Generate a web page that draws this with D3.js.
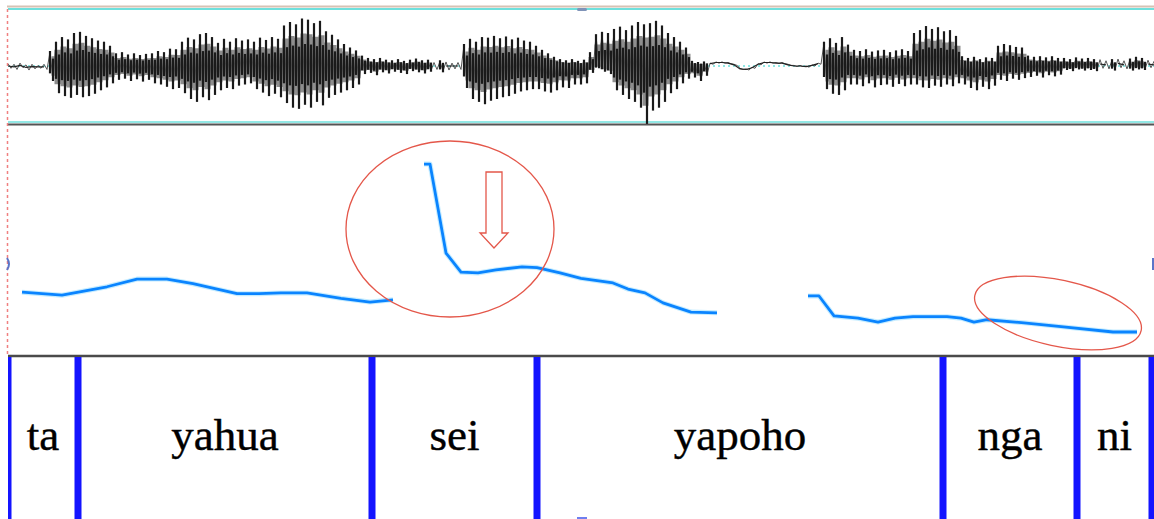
<!DOCTYPE html>
<html>
<head>
<meta charset="utf-8">
<script src="https://cdn.jsdelivr.net/npm/d3@7"></script>
<style>
  html, body { margin: 0; padding: 0; background: #fff; overflow: hidden; }
</style>
</head>
<body>
<div id="chart"></div>
<script>
// waveform frames, one every 6 ms (min / max of the signal, normalised -1..1)
const frameStep = 6;
const waveMax = [
  0.04,0.03,0.05,0.02,0.03,0.01,0.03,
  0.24,
  0.40,0.48,0.44,0.55,0.57,
  0.50,0.46,0.42,0.40,0.33,
  0.20,0.22,0.18,0.20,0.17,0.19,
  0.20,0.24,0.22,0.28,0.27,
  0.40,0.47,0.44,0.53,0.55,0.48,
  0.38,0.45,0.40,0.46,0.42,0.44,
  0.40,0.47,0.43,0.48,0.45,
  0.68,0.74,0.70,0.80,0.78,0.72,0.76,
  0.58,0.52,0.44,0.36,0.30,0.25,
  0.16,0.12,0.10,0.12,0.09,
  0.08,0.10,0.07,0.09,0.11,0.08,0.09,0.06,0.08,0.07,0.05,0.06,
  0.36,
  0.45,0.40,0.48,0.47,
  0.50,0.46,0.49,0.44,0.47,0.42,0.40,
  0.33,0.26,0.20,0.14,
  0.10,0.08,0.10,0.07,0.09,
  0.22,
  0.53,0.57,0.55,
  0.62,0.66,0.60,0.68,
  0.74,0.70,
  0.72,0.76,0.68,
  0.55,0.48,0.40,0.30,
  0.07,0.05,0.06,
  0.05,0.07,0.07,0.06,0.03,-0.04,-0.05,-0.02,0.04,0.07,0.07,0.06,0.06,0.03,0.01,0.01,0.00,0.02,0.05,
  0.40,0.46,0.38,0.48,0.35,
  0.26,0.24,0.27,0.23,0.25,0.26,0.22,0.25,0.27,0.24,
  0.55,0.60,0.67,0.62,0.65,0.58,0.60,0.50,
  0.15,0.12,0.14,0.10,0.13,0.12,
  0.33,0.36,0.34,0.31,0.30,
  0.16,0.14,0.15,0.13,0.15,0.12,
  0.12,0.10,0.13,0.11,0.12,0.10,0.11,0.09,0.10,0.12,0.09,0.11,0.14,0.12,0.10,0.08
];
const waveMin = [
  -0.04,-0.06,-0.03,-0.07,-0.05,-0.04,-0.06,
  -0.24,
  -0.45,-0.50,-0.53,-0.48,-0.52,
  -0.50,-0.46,-0.40,-0.35,-0.28,
  -0.22,-0.20,-0.24,-0.21,-0.25,-0.22,
  -0.28,-0.30,-0.34,-0.38,-0.36,
  -0.45,-0.55,-0.60,-0.52,-0.57,-0.48,
  -0.40,-0.36,-0.38,-0.32,-0.30,-0.28,
  -0.38,-0.44,-0.50,-0.46,-0.52,
  -0.62,-0.70,-0.72,-0.65,-0.70,-0.60,-0.66,
  -0.53,-0.48,-0.44,-0.40,-0.36,-0.30,
  -0.12,-0.10,-0.14,-0.09,-0.11,
  -0.08,-0.10,-0.12,-0.07,-0.09,-0.11,-0.08,-0.06,-0.09,-0.07,-0.05,-0.06,
  -0.36,
  -0.55,-0.60,-0.64,-0.58,
  -0.55,-0.52,-0.50,-0.46,-0.42,-0.40,-0.38,
  -0.38,-0.42,-0.44,-0.40,
  -0.35,-0.36,-0.30,-0.30,-0.28,
  -0.10,
  -0.02,-0.08,-0.12,
  -0.40,-0.48,-0.55,-0.60,
  -0.70,-0.98,
  -0.75,-0.70,-0.60,
  -0.45,-0.38,-0.28,-0.20,
  -0.18,-0.24,-0.15,
  0.03,0.05,0.05,0.04,0.01,-0.06,-0.07,-0.04,0.02,0.05,0.05,0.04,0.04,0.01,-0.01,-0.01,-0.02,0.00,0.03,
  -0.38,-0.46,-0.48,-0.40,-0.30,
  -0.30,-0.33,-0.28,-0.35,-0.31,-0.30,-0.34,-0.29,-0.33,-0.30,
  -0.30,-0.35,-0.36,-0.32,-0.34,-0.30,-0.33,-0.28,
  -0.30,-0.36,-0.40,-0.34,-0.38,-0.32,
  -0.22,-0.24,-0.20,-0.22,-0.19,
  -0.17,-0.15,-0.18,-0.14,-0.16,-0.13,
  -0.05,-0.07,-0.04,-0.06,-0.05,-0.07,-0.04,-0.05,-0.06,-0.03,-0.05,-0.06,-0.04,-0.05,-0.03,-0.04
];

// pitch contour (ms, Hz), three voiced stretches
const pitchTime = [
  [14,54,99,129,159,185,229,251,273,299,333,362,385],
  [416,422,438,453,470,488,514,529,552,573,605,620,637,655,683,709],
  [800,811,826,850,870,887,905,939,953,966,979,1016,1053,1105,1129]
];
const pitchHz = [
  [132,128,139,149,149,143,130,130,131,131,124,119,122],
  [299,299,183,158,157,161,165,164,157,150,144,136,131,118,106,105],
  [127,127,101,98,93,98,100,100,98,93,96,92,87,80,80]
];

// text grid tier: boundaries (ms) and syllables
const boundaries = [0,70,364,529,935,1069,1144];
const syllables = ["ta","yahua","sei","yapoho","nga","ni"];

const W = 1154, H = 519;
const left = 8;
const duration = 1146;

const svg = d3.select('#chart')
  .append('svg')
    .attr('width', W)
    .attr('height', H);

const x = d3.scaleLinear().domain([0, duration]).range([left, W]);
const yWave = d3.scaleLinear().domain([-1, 1]).range([124, 8]);
const yPitch = d3.scaleLinear().domain([50, 350]).range([355, 125]);

svg.append('clipPath').attr('id', 'clip')
  .append('rect').attr('x', left).attr('y', 0).attr('width', W - left).attr('height', H);

// ---- waveform panel ----
svg.append('line')
  .attr('x1', left - 1).attr('x2', W).attr('y1', 6.5).attr('y2', 6.5)
  .attr('stroke', '#d6c2b4').attr('stroke-width', 2);
svg.append('line')
  .attr('x1', left).attr('x2', W).attr('y1', 9).attr('y2', 9)
  .attr('stroke', '#6ee0dc').attr('stroke-width', 2);
svg.append('line')
  .attr('x1', left).attr('x2', W).attr('y1', yWave(0)).attr('y2', yWave(0))
  .attr('stroke', '#6ee0dc').attr('stroke-width', 1.5).attr('stroke-dasharray', '2,3');
svg.append('line')
  .attr('x1', left).attr('x2', W).attr('y1', 122).attr('y2', 122)
  .attr('stroke', '#6ee0dc').attr('stroke-width', 1.5);
svg.append('line')
  .attr('x1', left).attr('x2', W).attr('y1', 124.5).attr('y2', 124.5)
  .attr('stroke', '#555').attr('stroke-width', 2);

const frames = waveMax.map((d, i) => ({t: i * frameStep, hi: d, lo: waveMin[i]}));
const voiced = d => d.hi - d.lo > 0.15;

const wave = svg.append('g').attr('clip-path', 'url(#clip)');

// grey core of the voiced stretches
wave.append('path')
  .datum(frames)
  .attr('fill', '#8e8e8e')
  .attr('d', d3.area().defined(voiced).curve(d3.curveStep)
    .x(d => x(d.t) + 1.5).y0(d => yWave(d.lo * 0.7)).y1(d => yWave(d.hi * 0.7)));

// zigzag between frames
const wavePts = [];
frames.forEach(d => {
  wavePts.push([x(d.t), yWave(d.hi)]);
  wavePts.push([x(d.t) + 3, yWave(d.lo)]);
});
wave.append('path')
  .attr('fill', 'none')
  .attr('stroke', '#555')
  .attr('stroke-width', 1)
  .attr('d', d3.line()(wavePts));

// dark vertical strokes, up and down per frame
wave.selectAll('line.up')
  .data(frames.filter(voiced))
  .enter()
  .append('line')
    .attr('class', 'up')
    .attr('x1', d => x(d.t)).attr('x2', d => x(d.t))
    .attr('y1', d => yWave(d.hi)).attr('y2', d => yWave(d.lo * 0.45))
    .attr('stroke', '#1a1a1a').attr('stroke-width', 2.2).attr('stroke-linecap', 'square');
wave.selectAll('line.down')
  .data(frames.filter(voiced))
  .enter()
  .append('line')
    .attr('class', 'down')
    .attr('x1', d => x(d.t) + 3).attr('x2', d => x(d.t) + 3)
    .attr('y1', d => yWave(d.hi * 0.45)).attr('y2', d => yWave(d.lo))
    .attr('stroke', '#1a1a1a').attr('stroke-width', 2.2).attr('stroke-linecap', 'square');

// quiet stretches as a thin dark line
wave.append('path')
  .attr('fill', 'none').attr('stroke', '#222').attr('stroke-width', 1.2)
  .attr('d', d3.line().x(d => x(d.t)).y(d => yWave((d.hi + d.lo) / 2))
    .defined(d => !voiced(d))(frames));

// ---- pitch panel ----
const pitchLine = d3.line().x(d => x(d[0])).y(d => yPitch(d[1]));
pitchTime.forEach((ts, k) => {
  const pts = ts.map((t, i) => [t, pitchHz[k][i]]);
  svg.append('path')
    .attr('fill', 'none').attr('stroke', '#9fe0ff').attr('stroke-width', 5)
    .attr('stroke-opacity', 0.6).attr('stroke-linejoin', 'round')
    .attr('d', pitchLine(pts));
  svg.append('path')
    .attr('fill', 'none').attr('stroke', '#0a84ff').attr('stroke-width', 2.8)
    .attr('stroke-linejoin', 'round')
    .attr('d', pitchLine(pts));
});

svg.append('line')
  .attr('x1', left).attr('x2', W).attr('y1', 356).attr('y2', 356)
  .attr('stroke', '#4a4a4a').attr('stroke-width', 2.5);

// ---- text grid ----
const grid = svg.append('g').attr('clip-path', 'url(#clip)');
grid.selectAll('rect.bound')
  .data(boundaries)
  .enter()
  .append('rect')
    .attr('class', 'bound')
    .attr('x', d => x(d) - 3.5)
    .attr('y', 357)
    .attr('width', 7)
    .attr('height', H - 357)
    .attr('fill', '#1414ff');

svg.selectAll('text.syl')
  .data(syllables)
  .enter()
  .append('text')
    .attr('class', 'syl')
    .attr('x', (d, i) => x((boundaries[i] + boundaries[i + 1]) / 2))
    .attr('y', 450)
    .attr('text-anchor', 'middle')
    .attr('font-family', '"Liberation Serif", "Times New Roman", serif')
    .attr('font-size', 45)
    .attr('fill', '#000')
    .attr('stroke', '#000')
    .attr('stroke-width', 0.4)
    .text(d => d);

// cursor line at the left edge
svg.append('line')
  .attr('x1', 7.5).attr('x2', 7.5).attr('y1', 9).attr('y2', 356)
  .attr('stroke', '#f08080').attr('stroke-width', 1.5).attr('stroke-dasharray', '3,3');

// little handles
svg.append('rect').attr('x', 577).attr('y', 8).attr('width', 10).attr('height', 3).attr('rx', 1.5)
  .attr('fill', '#7f93b8');
svg.append('rect').attr('x', 577).attr('y', 517).attr('width', 10).attr('height', 2)
  .attr('fill', '#6f7ff0');
svg.append('path').attr('d', 'M7,258 Q11,264 7,270').attr('fill', 'none')
  .attr('stroke', '#5b74c8').attr('stroke-width', 2);
svg.append('rect').attr('x', 1152).attr('y', 258).attr('width', 2).attr('height', 12)
  .attr('fill', '#5b74c8');

// ---- red annotations ----
const red = '#e4574a';
svg.append('ellipse')
  .attr('cx', 450).attr('cy', 229).attr('rx', 104).attr('ry', 88)
  .attr('fill', 'none').attr('stroke', red).attr('stroke-width', 1.3);
svg.append('path')
  .attr('d', 'M486,172 L502,172 L502,233 L508,233 L494,248 L480,233 L486,233 Z')
  .attr('fill', 'none').attr('stroke', red).attr('stroke-width', 1.3);
svg.append('ellipse')
  .attr('cx', 0).attr('cy', 0).attr('rx', 85).attr('ry', 33)
  .attr('transform', 'translate(1058,313) rotate(12)')
  .attr('fill', 'none').attr('stroke', red).attr('stroke-width', 1.3);
</script>
</body>
</html>
